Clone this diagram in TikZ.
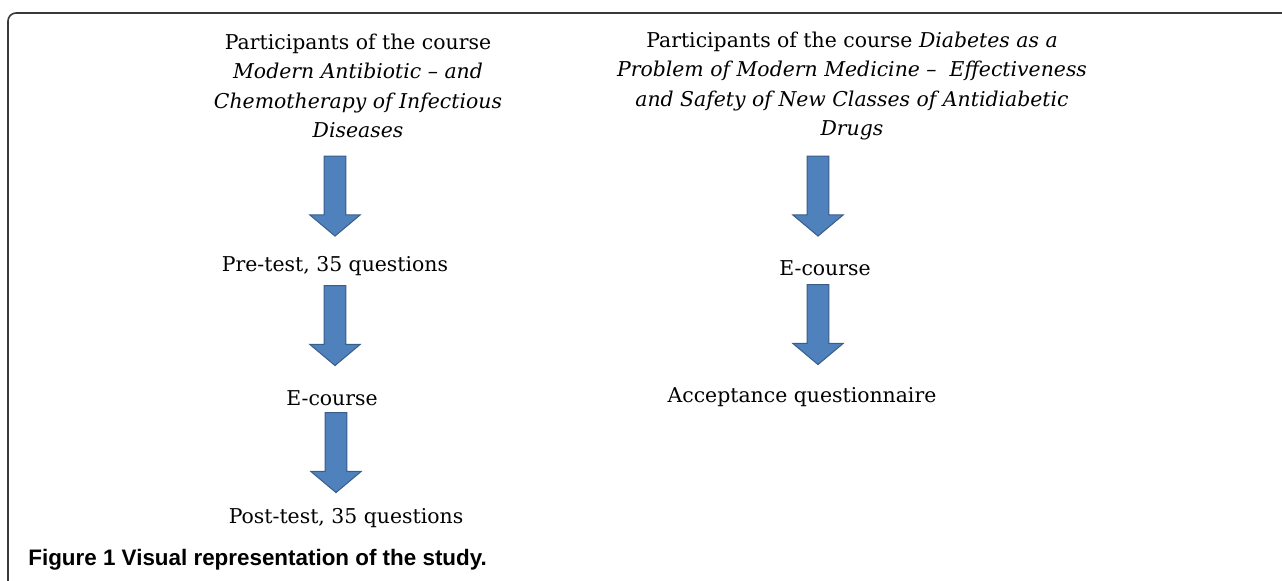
\documentclass[tikz,border=0pt]{standalone}
\usepackage{fontspec}
\setmainfont{DejaVu Serif}
\newfontfamily\capfont{Liberation Sans}
\usepackage{xcolor}
\usetikzlibrary{shapes.arrows}

\definecolor{arrowfill}{HTML}{4F81BD}
\definecolor{arrowline}{HTML}{385D8A}
\definecolor{framegray}{HTML}{3A3A3A}

\tikzset{
  blockarrow/.style={single arrow,draw=arrowline,fill=arrowfill,line width=0.5pt,
    minimum height=40pt,inner xsep=0pt,inner ysep=5.2pt,single arrow head extend=7.2pt,
    single arrow tip angle=100,rotate=-90},
  steptext/.style={align=center,inner sep=0pt,font=\fontsize{10.2}{14.75}\selectfont},
}

\begin{document}
\begin{tikzpicture}[x=0.5pt,y=-0.5pt]
\path[use as bounding box] (0,0) rectangle (1282,581);

% frame
\draw[framegray,line width=0.8pt,rounded corners=4pt] (8,581) -- (8,13) -- (1282,13);

% left column
\node[steptext] (lefttitle) at (358,86) {Participants of the course\\
  \textit{Modern Antibiotic -- and}\\
  \textit{Chemotherapy of Infectious}\\
  \textit{Diseases}};
\node[steptext] (pretest) at (335,266) {Pre-test, 35 questions};
\node[steptext] (ecleft) at (332,398) {E-course};
\node[steptext] (posttest) at (346,518) {Post-test, 35 questions};

\node[blockarrow] (la1) at (335,191.5) {};
\node[blockarrow] (la2) at (335,321) {};
\node[blockarrow] (la3) at (336,448) {};

% right column
\node[steptext] (righttitle) at (852,86) {Participants of the course \textit{Diabetes as a}\\
  \textit{Problem of Modern Medicine --\ \ Effectiveness}\\
  \textit{and Safety of New Classes of Antidiabetic}\\
  \textit{Drugs}};
\node[steptext] (ecright) at (825,268) {E-course};
\node[steptext] (accept) at (802,397) {Acceptance questionnaire};

\node[blockarrow] (ra1) at (818,191.5) {};
\node[blockarrow] (ra2) at (818,320) {};

% caption
\node[anchor=west,inner sep=0pt,font=\capfont\bfseries\fontsize{11.2}{13}\selectfont] (caption) at (28,560)
  {Figure 1 Visual representation of the study.};
\end{tikzpicture}
\end{document}
